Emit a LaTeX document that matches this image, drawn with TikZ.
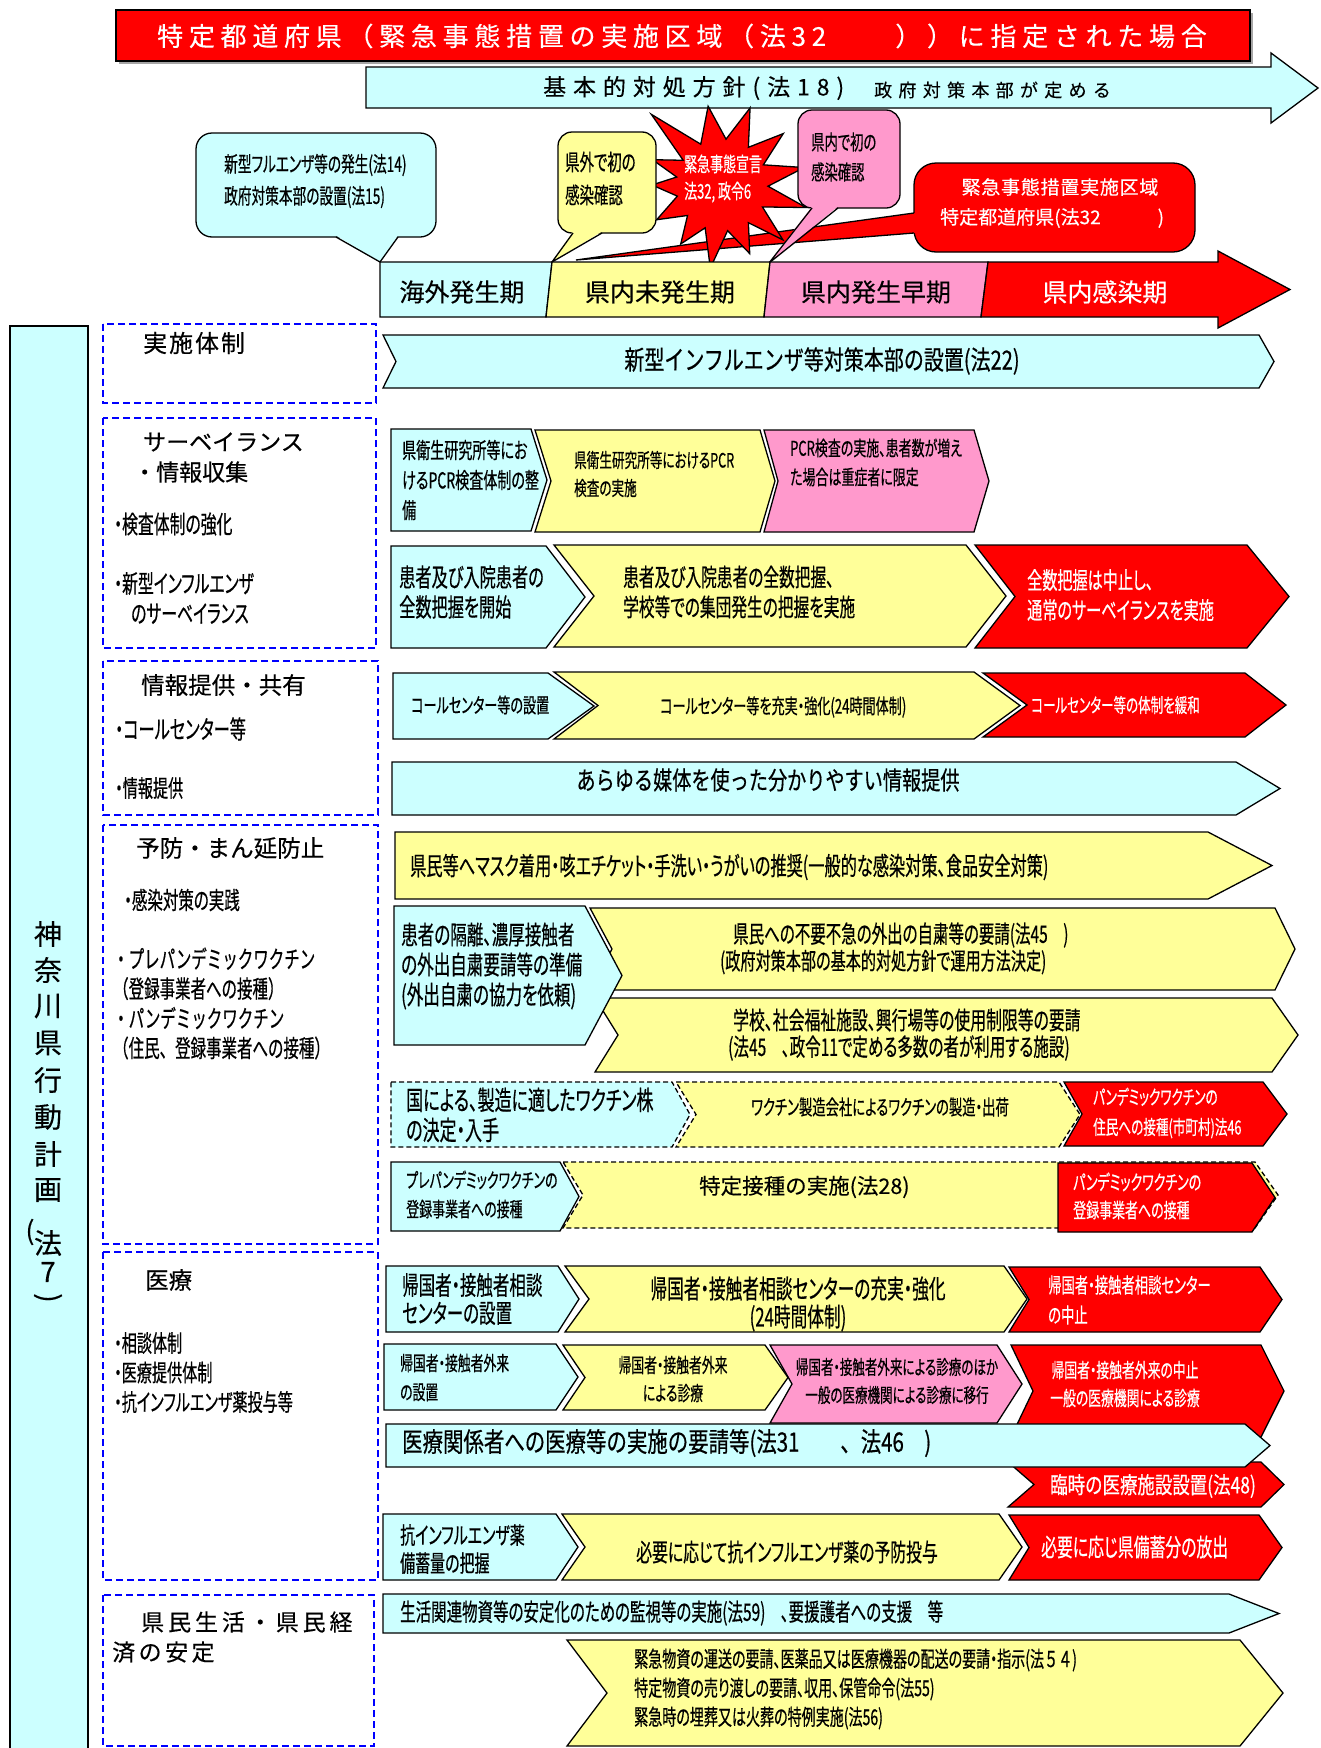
\documentclass[tikz,border=0pt]{standalone}
\usepackage{fontspec}
\newfontfamily\jpn[FakeBold=0.3]{Noto Sans CJK JP}
\newfontfamily\jpm[FakeStretch=0.76,FakeBold=0.5]{Noto Sans CJK JP}
\newfontfamily\jpc[FakeStretch=0.64,FakeBold=0.5,RawFeature=+palt]{Noto Sans CJK JP}
\newcommand\JN[2]{\jpn\fontsize{#1}{#2}\selectfont}
\newcommand\JM[2]{\jpm\fontsize{\fpeval{#1*1.12}}{#2}\selectfont}
\newcommand\JC[2]{\jpc\fontsize{\fpeval{#1*1.125}}{#2}\selectfont}
\newcommand\nopalt{\addfontfeature{RawFeature=-palt}}
\definecolor{cy}{HTML}{CCFFFF}
\definecolor{ye}{HTML}{FFFF99}
\definecolor{pk}{HTML}{FF99CC}
\definecolor{rd}{HTML}{FF0000}
\definecolor{bl}{HTML}{0000FF}
\tikzset{
  sh/.style={draw=black, line width=1.3pt, line join=miter},
  cyb/.style={sh, fill=cy}, yeb/.style={sh, fill=ye},
  pkb/.style={sh, fill=pk}, rdb/.style={sh, fill=rd},
  dsh/.style={dash pattern=on 5pt off 3pt},
  lbox/.style={draw=bl, line width=1.8pt, dash pattern=on 7pt off 4pt},
  tl/.style={inner sep=0pt, anchor=west, align=left},
  tc/.style={inner sep=0pt, anchor=center, align=center},
  wt/.style={text=white},
}
\newcommand\chevshape[7]{\draw[#1] (#2,#6) -- (#4,#6) -- (#5,{(#6+#7)/2}) -- (#4,#7) -- (#2,#7) -- (#3,{(#6+#7)/2}) -- cycle;}
\begin{document}
\begin{tikzpicture}[x=1pt,y=-1pt]
\useasboundingbox (0,0) rectangle (1320,1748);
\fill[white] (0,0) rectangle (1320,1748);
% banner
\fill[gray!70] (119,13) rectangle (1253,64);
\draw[rdb] (116,10) rectangle (1250,61);
\node[tc, wt, font={\JN{26}{30}\addfontfeature{LetterSpace=22}}] (ban) at (682,36) {特定都道府県（緊急事態措置の実施区域（法32　　））に指定された場合};
% basic policy arrow
\draw[cyb] (366,67) -- (1271,67) -- (1271,53) -- (1318,88) -- (1271,123) -- (1271,108) -- (366,108) -- cycle;
\node[tl, font={\JN{23}{28}\addfontfeature{LetterSpace=30}}] (pol) at (543,88) {基本的対処方針(法18)};
\node[tl, font={\JN{18}{22}\addfontfeature{LetterSpace=35}}] (pol2) at (874,90) {政府対策本部が定める};
% red callout
\draw[rdb, rounded corners=22] (914,163) rectangle (1195,252);
\fill[rd] (915.5,213) -- (576,260) -- (915.5,233) -- cycle;
\draw[sh] (914,213) -- (576,260) -- (914,233);
\node[tc, wt, font={\JN{19}{24}\addfontfeature{LetterSpace=4}}] (rc1) at (1060,187) {緊急事態措置実施区域};
\node[tl, wt, font={\JN{19}{24}}] (rc2) at (940,218) {特定都道府県(法32　　　)};
% star
\begin{scope}[shift={(722,185)}]
\draw[rdb] (-135:100) -- (-117.5:46) -- (-100:80) -- (-85:46) -- (-70:82) -- (-55:46) -- (-40:80) -- (-26:46) -- (-12:84) -- (1.5:46) -- (15:87) -- (28.5:46) -- (42:82) -- (55:46) -- (68:74) -- (83:46) -- (98:84) -- (111.5:46) -- (125:72) -- (138.5:46) -- (152:74) -- (166:46) -- (180:70) -- (190:46) -- (200:74) -- (212.5:46) -- cycle;
\end{scope}
\node[tl, wt, font={\JC{18}{27}}] (st) at (684,178.5) {緊急事態宣言\\法32, 政令6};
% yellow callout
\draw[yeb, rounded corners=14] (558,132) rectangle (656,233);
\fill[ye] (573,231.5) -- (552,262) -- (602,231.5) -- cycle;
\draw[sh] (573,233) -- (552,262) -- (602,233);
\node[tl, font={\JC{20}{33}}] (yc) at (565,178.5) {県外で初の\\感染確認};
% pink callout
\draw[pkb, rounded corners=14] (798,110) rectangle (900,208);
\fill[pk] (812,206.5) -- (769,263) -- (838,206.5) -- cycle;
\draw[sh] (812,208) -- (769,263) -- (838,208);
\node[tl, font={\JC{18.5}{30}}] (pc) at (811,157) {県内で初の\\感染確認};
% cyan callout
\draw[cyb, rounded corners=16] (196,133) rectangle (436,237);
\fill[cy] (336,235.5) -- (380,262) -- (398,235.5) -- cycle;
\draw[sh] (336,237) -- (380,262) -- (398,237);
\node[tl, font={\JC{19}{32}}] (cc) at (224,181) {新型フルエンザ等の発生(法14)\\政府対策本部の設置(法15)};
% phase bar
\draw[cyb] (380,262) -- (552,262) -- (546,317) -- (380,317) -- cycle;
\draw[yeb] (552,262) -- (770,262) -- (764,317) -- (546,317) -- cycle;
\draw[pkb] (770,262) -- (988,262) -- (981,317) -- (764,317) -- cycle;
\draw[rdb] (988,262) -- (1218,262) -- (1218,251) -- (1290,289.5) -- (1218,328) -- (1218,317) -- (981,317) -- cycle;
\node[tc, font={\JN{25}{30}}] (ph1) at (462,292) {海外発生期};
\node[tc, font={\JN{25}{30}}] (ph2) at (660,292) {県内未発生期};
\node[tc, font={\JN{25}{30}}] (ph3) at (876,292) {県内発生早期};
\node[tc, wt, font={\JN{25}{30}}] (ph4) at (1105,292) {県内感染期};
% left bar
\draw[cyb] (10,326) rectangle (88,1770);
\foreach \c/\yy [count=\i] in {神/934,奈/970,川/1006,県/1043,行/1080,動/1117,計/1154,画/1190,法/1243,7/1272}
  \node[tc, font={\JN{28}{30}}] (v\i) at (48,\yy) {\c};
\node[tc, font={\JN{26}{30}}] (vp1) at (30,1232) {(};
\node[tc, rotate=-90, font={\JN{28}{30}}] (vp2) at (48,1298) {)};
% left dashed boxes
\draw[lbox] (103,324) rectangle (376,403);
\draw[lbox] (103,418) rectangle (376,648);
\draw[lbox] (103,661) rectangle (378,815);
\draw[lbox] (103,825) rectangle (378,1244);
\draw[lbox] (103,1252) rectangle (378,1580);
\draw[lbox] (103,1595) rectangle (374,1746);
% left texts
\node[tl, font={\JN{24}{30}\addfontfeature{LetterSpace=8}}] (b1) at (143,343) {実施体制};
\node[tl, font={\JN{23}{30}}] (b2a) at (143,442) {サーベイランス};
\node[tl, font={\JN{23}{30}}] (b2b) at (133,472) {・情報収集};
\node[tl, font={\JC{22}{30}}] (b2c) at (114,524) {・検査体制の強化};
\node[tl, font={\JC{22}{30}}] (b2d) at (114,598) {・新型インフルエンザ\\\hspace*{17pt}のサーベイランス};
\node[tl, font={\JN{23.5}{30}}] (b3a) at (141,685) {情報提供・共有};
\node[tl, font={\JC{22.5}{30}}] (b3b) at (115,729) {・コールセンター等};
\node[tl, font={\JC{21}{30}}] (b3c) at (115,788) {・情報提供};
\node[tl, font={\JN{23.5}{30}}] (b4a) at (136,848) {予防・まん延防止};
\node[tl, font={\JC{21.5}{30}}] (b4b) at (124,900) {・感染対策の実践};
\node[tl, font={\JC{21.5}{29.7}\nopalt}] (b4c) at (113,1003.5) {・プレパンデミックワクチン\\（登録事業者への接種）\\・パンデミックワクチン\\（住民、登録事業者への接種）};
\node[tl, font={\JN{23.5}{30}}] (b5a) at (145,1280) {医療};
\node[tl, font={\JC{21}{29.5}}] (b5b) at (114,1372.5) {・相談体制\\・医療提供体制\\・抗インフルエンザ薬投与等};
\node[tl, font={\JN{23}{30}\addfontfeature{LetterSpace=17}}] (b6a) at (141,1622) {県民生活・県民経};
\node[tl, font={\JN{23}{30}\addfontfeature{LetterSpace=15}}] (b6b) at (112,1652) {済の安定};
% implementation
\chevshape{cyb}{383}{396}{1259}{1274}{335}{388}
\node[tc, font={\JM{23.5}{30}}] (n1) at (822,361) {新型インフルエンザ等対策本部の設置(法22)};
% surveillance
\chevshape{cyb}{391}{391}{531}{547}{429}{531}
\chevshape{yeb}{535}{551}{760}{775}{430}{532}
\chevshape{pkb}{764}{778}{974}{989}{430}{532}
\node[tl, font={\JC{19.5}{30}}] (s1a) at (402,480) {県衛生研究所等にお\\けるPCR検査体制の整\\備};
\node[tl, font={\JC{17.5}{28}}] (s1b) at (574,474) {県衛生研究所等におけるPCR\\検査の実施};
\node[tl, font={\JC{18}{29}}] (s1c) at (790,462.5) {PCR検査の実施、患者数が増え\\た場合は重症者に限定};
\chevshape{cyb}{391}{391}{546}{585}{546}{648}
\chevshape{yeb}{554}{594}{966}{1006}{545}{647}
\chevshape{rdb}{975}{1015}{1247}{1289}{545}{648}
\node[tl, font={\JC{22.5}{30}}] (s2a) at (399,592) {患者及び入院患者の\\全数把握を開始};
\node[tl, font={\JC{21.8}{30}}] (s2b) at (623,592) {患者及び入院患者の全数把握、\\学校等での集団発生の把握を実施};
\node[tl, wt, font={\JC{21}{30}}] (s2c) at (1027,595) {全数把握は中止し、\\通常のサーベイランスを実施};
% information
\chevshape{cyb}{393}{393}{548}{594}{673}{739}
\chevshape{yeb}{554}{598}{974}{1020}{672}{739}
\chevshape{rdb}{983}{1027}{1245}{1286}{673}{737}
\node[tl, font={\JC{18.2}{28}}] (i1a) at (411,705) {コールセンター等の設置};
\node[tl, font={\JC{18.2}{28}}] (i1b) at (660,707) {コールセンター等を充実・強化(24時間体制)};
\node[tl, wt, font={\JC{17.4}{28}}] (i1c) at (1031,705) {コールセンター等の体制を緩和};
\chevshape{cyb}{392}{392}{1236}{1280}{762}{815}
\node[tc, font={\JM{22.5}{28}}] (i2) at (768,780) {あらゆる媒体を使った分かりやすい情報提供};
% prevention
\chevshape{yeb}{395}{395}{1208}{1272}{832}{899}
\node[tl, font={\JC{22.5}{28}}] (p1) at (410,867) {県民等へマスク着用・咳エチケット・手洗い・うがいの推奨(一般的な感染対策、食品安全対策)};
\chevshape{yeb}{590}{612}{1275}{1295}{908}{990}
\chevshape{yeb}{595}{618}{1272}{1298}{998}{1072}
\chevshape{cyb}{394}{394}{585}{622}{906}{1045}
\node[tl, font={\JC{23}{30}}] (p2a) at (401,966) {患者の隔離、濃厚接触者\\の外出自粛要請等の準備\\(外出自粛の協力を依頼)};
\node[tl, font={\JC{21.5}{28}}] (p2b) at (733,935) {県民への不要不急の外出の自粛等の要請(法45　)};
\node[tl, font={\JC{21}{28}}] (p2b2) at (720,962) {(政府対策本部の基本的対処方針で運用方法決定)};
\node[tl, font={\JC{22}{28}}] (p2c) at (733,1020) {学校、社会福祉施設、興行場等の使用制限等の要請};
\node[tl, font={\JC{21.6}{28}}] (p2c2) at (728,1048) {(法45　、政令11で定める多数の者が利用する施設)};
\chevshape{cyb,dsh}{391}{391}{672}{690}{1082}{1147}
\chevshape{yeb,dsh}{676}{696}{1059}{1080}{1082}{1147}
\chevshape{rdb}{1064}{1082}{1263}{1287}{1082}{1146}
\node[tl, font={\JC{23.6}{30}}] (p3a) at (406,1115) {国による、製造に適したワクチン株\\の決定・入手};
\node[tl, font={\JC{18.5}{28}}] (p3b) at (751,1107) {ワクチン製造会社によるワクチンの製造・出荷};
\node[tl, wt, font={\JC{17.5}{30}}] (p3c) at (1093,1113) {パンデミックワクチンの\\住民への接種(市町村)法46};
\chevshape{yeb,dsh}{563}{583}{1255}{1278}{1162}{1228}
\chevshape{cyb}{391}{391}{560}{579}{1162}{1231}
\chevshape{rdb}{1058}{1058}{1252}{1275}{1163}{1232}
\node[tl, font={\JC{18}{29}}] (p4a) at (406,1194.5) {プレパンデミックワクチンの\\登録事業者への接種};
\node[tl, font={\JN{21.5}{28}}] (p4b) at (699,1187) {特定接種の実施(法28)};
\node[tl, wt, font={\JC{18}{28}}] (p4c) at (1073,1196) {パンデミックワクチンの\\登録事業者への接種};
% medical
\chevshape{cyb}{386}{386}{558}{579}{1266}{1332}
\chevshape{yeb}{565}{589}{1004}{1027}{1266}{1332}
\chevshape{rdb}{1009}{1029}{1260}{1282}{1267}{1332}
\node[tl, font={\JC{22.9}{28}}] (m1a) at (402,1299) {帰国者・接触者相談\\センターの設置};
\node[tc, font={\JC{23.2}{28}}] (m1b) at (798,1304) {帰国者・接触者相談センターの充実・強化\\(24時間体制)};
\node[tl, wt, font={\JC{18.5}{30}}] (m1c) at (1048,1300) {帰国者・接触者相談センター\\の中止};
\chevshape{cyb}{384}{384}{556}{578}{1344}{1410}
\chevshape{pkb}{770}{792}{997}{1022}{1345}{1423}
\chevshape{yeb}{563}{585}{765}{788}{1345}{1410}
\chevshape{rdb}{1011}{1033}{1261}{1284}{1345}{1437}
\chevshape{rdb}{1008}{1034}{1261}{1284}{1462}{1507}
\chevshape{cyb}{386}{386}{1245}{1270}{1424}{1467}
\node[tl, font={\JC{17.8}{29}}] (m2a) at (400,1377.5) {帰国者・接触者外来\\の設置};
\node[tc, font={\JC{17.8}{28}}] (m2b) at (673,1379) {帰国者・接触者外来\\による診療};
\node[tc, font={\JC{17.4}{28}}] (m2c) at (897,1381) {帰国者・接触者外来による診療のほか\\一般の医療機関による診療に移行};
\node[tc, wt, font={\JC{17.8}{28}}] (m2d) at (1125,1384) {帰国者・接触者外来の中止\\一般の医療機関による診療};
\node[tl, font={\JM{24}{28}}] (m3) at (402,1443) {医療関係者への医療等の実施の要請等(法31　　、法46　)};
\node[tl, wt, font={\JM{20.5}{28}}] (m4) at (1050,1486) {臨時の医療施設設置(法48)};
\chevshape{cyb}{383}{383}{556}{578}{1514}{1580}
\chevshape{yeb}{562}{585}{999}{1022}{1514}{1580}
\chevshape{rdb}{1009}{1029}{1259}{1282}{1515}{1580}
\node[tl, font={\JC{20.8}{28}}] (m5a) at (400,1549) {抗インフルエンザ薬\\備蓄量の把握};
\node[tc, font={\JC{22}{28}}] (m5b) at (787,1552) {必要に応じて抗インフルエンザ薬の予防投与};
\node[tl, wt, font={\JC{22}{28}}] (m5c) at (1041,1547) {必要に応じ県備蓄分の放出};
% life
\chevshape{cyb}{383}{383}{1229}{1279}{1594}{1633}
\node[tl, font={\JC{21.5}{28}}] (l1) at (400,1613) {生活関連物資等の安定化のための監視等の実施(法59)　、要援護者への支援　等};
\chevshape{yeb}{567}{607}{1240}{1283}{1640}{1746}
\node[tl, font={\JC{19.5}{29}}] (l2) at (634,1689) {緊急物資の運送の要請、医薬品又は医療機器の配送の要請・指示(法{\nopalt ５４})\\特定物資の売り渡しの要請、収用、保管命令(法55)\\緊急時の埋葬又は火葬の特例実施(法56)};
\end{tikzpicture}
\end{document}
